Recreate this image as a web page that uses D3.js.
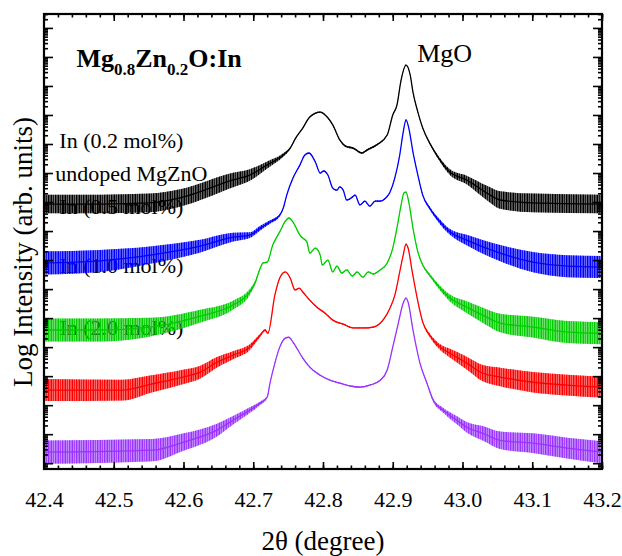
<!DOCTYPE html>
<html>
<head>
<meta charset="utf-8">
<script src="https://cdn.jsdelivr.net/npm/d3@7"></script>
<style>
  body { margin: 0; background: #fff; }
</style>
</head>
<body>
<svg id="chart" width="622" height="556" font-family="Liberation Serif, Times New Roman, serif"></svg>
<script>
// 2theta (degree), log10 intensity, and half height of the noise band (decades)
const thetaBlack = [42.400, 42.480, 42.552, 42.595, 42.671, 42.695, 42.720, 42.743, 42.753, 42.761, 42.771, 42.781, 42.796, 42.806, 42.814, 42.824, 42.832, 42.843, 42.856, 42.863, 42.877, 42.892, 42.900, 42.906, 42.912, 42.919, 42.925, 42.929, 42.936, 42.943, 42.953, 42.963, 42.982, 43.006, 43.035, 43.054, 43.101, 43.200];
const logBlack = [8.93, 8.93, 8.97, 9.14, 9.76, 9.93, 10.28, 10.62, 10.86, 11.21, 11.55, 11.93, 12.10, 11.93, 11.66, 11.14, 10.93, 10.86, 10.69, 10.79, 10.97, 11.31, 12.00, 12.34, 13.21, 13.72, 13.38, 12.79, 12.10, 11.55, 11.03, 10.62, 10.03, 9.76, 9.31, 9.07, 8.97, 8.93];
const noiseBlack = [.32, .32, .32, .30, .25, .20, .12, .06, .03, .02, .02, .02, .02, .02, .02, .02, .03, .03, .03, .03, .03, .02, .02, .02, .02, .02, .02, .02, .02, .02, .03, .05, .10, .15, .25, .30, .32, .32];

const thetaBlue = [42.400, 42.480, 42.552, 42.624, 42.671, 42.695, 42.710, 42.724, 42.738, 42.743, 42.748, 42.757, 42.767, 42.774, 42.780, 42.789, 42.796, 42.801, 42.807, 42.814, 42.820, 42.824, 42.829, 42.834, 42.842, 42.846, 42.853, 42.860, 42.867, 42.875, 42.882, 42.890, 42.896, 42.903, 42.910, 42.915, 42.919, 42.923, 42.929, 42.936, 42.943, 42.953, 42.968, 42.982, 43.006, 43.054, 43.101, 43.150, 43.200];
const logBlue = [6.90, 6.97, 7.17, 7.48, 7.79, 7.86, 8.10, 8.31, 8.55, 8.79, 9.24, 9.83, 10.28, 10.62, 10.69, 10.38, 10.00, 10.07, 9.93, 9.48, 9.41, 9.52, 9.41, 9.07, 9.17, 9.24, 8.90, 9.03, 8.86, 9.03, 9.03, 9.14, 9.34, 9.83, 10.62, 11.41, 11.83, 11.55, 10.72, 9.93, 9.24, 8.79, 8.31, 7.97, 7.69, 7.24, 6.93, 6.79, 6.76];
const noiseBlue = [.40, .38, .30, .22, .15, .10, .08, .06, .04, .03, .02, .02, .02, .02, .02, .02, .02, .02, .02, .02, .02, .02, .02, .02, .02, .02, .02, .02, .02, .02, .02, .02, .02, .02, .02, .02, .02, .02, .02, .02, .03, .05, .08, .10, .18, .28, .35, .38, .38];

const thetaGreen = [42.400, 42.480, 42.552, 42.624, 42.671, 42.695, 42.703, 42.710, 42.714, 42.720, 42.728, 42.738, 42.746, 42.751, 42.757, 42.767, 42.771, 42.777, 42.781, 42.789, 42.796, 42.799, 42.807, 42.814, 42.820, 42.827, 42.834, 42.842, 42.849, 42.857, 42.865, 42.872, 42.882, 42.892, 42.900, 42.906, 42.912, 42.916, 42.919, 42.923, 42.929, 42.936, 42.943, 42.953, 42.968, 42.982, 43.006, 43.029, 43.054, 43.101, 43.150, 43.200];
const logGreen = [4.59, 4.59, 4.69, 5.07, 5.45, 5.90, 6.24, 6.72, 6.90, 6.93, 7.52, 7.97, 8.34, 8.45, 8.31, 7.86, 7.76, 7.62, 7.24, 7.41, 7.17, 6.83, 7.00, 6.59, 6.79, 6.55, 6.66, 6.45, 6.59, 6.41, 6.59, 6.52, 6.66, 6.90, 7.41, 8.10, 8.90, 9.31, 9.34, 9.00, 8.10, 7.28, 6.83, 6.48, 6.03, 5.69, 5.38, 5.10, 4.83, 4.69, 4.52, 4.48];
const noiseGreen = [.40, .40, .32, .22, .15, .10, .06, .03, .02, .02, .02, .02, .02, .02, .02, .02, .02, .02, .02, .02, .02, .02, .02, .02, .02, .02, .02, .02, .02, .02, .02, .02, .02, .02, .02, .02, .02, .02, .02, .02, .02, .02, .03, .05, .08, .12, .20, .26, .32, .36, .38, .38];

const thetaRed = [42.400, 42.513, 42.552, 42.599, 42.624, 42.648, 42.671, 42.695, 42.710, 42.717, 42.721, 42.731, 42.738, 42.746, 42.753, 42.760, 42.766, 42.771, 42.781, 42.791, 42.803, 42.814, 42.829, 42.843, 42.857, 42.872, 42.886, 42.896, 42.903, 42.910, 42.915, 42.919, 42.922, 42.928, 42.935, 42.943, 42.953, 42.968, 42.982, 43.006, 43.029, 43.054, 43.101, 43.150, 43.200];
const logRed = [2.52, 2.52, 2.72, 2.97, 3.14, 3.48, 3.72, 4.00, 4.41, 4.59, 4.48, 5.79, 6.38, 6.59, 6.38, 5.97, 6.03, 5.90, 5.62, 5.38, 5.17, 4.93, 4.79, 4.66, 4.66, 4.69, 4.93, 5.34, 5.79, 6.59, 7.17, 7.55, 7.41, 6.59, 5.69, 4.86, 4.41, 4.00, 3.79, 3.45, 3.10, 2.97, 2.79, 2.69, 2.62];
const noiseRed = [.38, .36, .30, .25, .22, .18, .14, .10, .05, .03, .02, .02, .02, .02, .02, .02, .02, .02, .02, .02, .02, .02, .02, .02, .02, .02, .02, .02, .02, .02, .02, .02, .02, .02, .02, .03, .06, .10, .15, .22, .28, .32, .35, .36, .36];

const thetaPurple = [42.400, 42.556, 42.599, 42.648, 42.671, 42.695, 42.710, 42.720, 42.724, 42.731, 42.738, 42.746, 42.751, 42.757, 42.764, 42.771, 42.781, 42.796, 42.810, 42.824, 42.839, 42.853, 42.867, 42.882, 42.892, 42.900, 42.908, 42.915, 42.919, 42.922, 42.929, 42.939, 42.949, 42.958, 42.972, 42.992, 43.006, 43.029, 43.054, 43.101, 43.150, 43.200];
const logPurple = [0.38, 0.45, 0.72, 1.14, 1.48, 1.83, 2.07, 2.28, 2.76, 3.45, 4.00, 4.31, 4.34, 4.17, 3.90, 3.62, 3.31, 3.03, 2.86, 2.76, 2.66, 2.62, 2.69, 2.86, 3.21, 4.00, 4.83, 5.52, 5.69, 5.55, 4.59, 3.45, 2.76, 2.17, 1.83, 1.48, 1.24, 1.03, 0.79, 0.69, 0.52, 0.38];
const noisePurple = [.40, .38, .30, .22, .15, .10, .06, .03, .02, .02, .02, .02, .02, .02, .02, .02, .02, .02, .02, .02, .02, .02, .02, .02, .02, .02, .02, .02, .02, .02, .02, .02, .03, .05, .08, .14, .18, .25, .30, .34, .36, .38];

const seriesColors = ['#000000', '#0000ff', '#00cc00', '#ff0000', '#9933ff'];
const sampleLabels = ['In (0.2 mol%)', 'undoped MgZnO', 'In (0.5 mol%)', 'In (1.0 mol%)', 'In (2.0 mol%)'];
const labelLog = [10.86, 9.72, 8.59, 6.55, 4.41];
const xTickLabels = ['42.4', '42.5', '42.6', '42.7', '42.8', '42.9', '43.0', '43.1', '43.2'];

const serif = 'Liberation Serif, Times New Roman, serif';

const series = [
    { x: thetaBlack, y: logBlack, n: noiseBlack },
    { x: thetaBlue, y: logBlue, n: noiseBlue },
    { x: thetaGreen, y: logGreen, n: noiseGreen },
    { x: thetaRed, y: logRed, n: noiseRed },
    { x: thetaPurple, y: logPurple, n: noisePurple },
].map((s, i) => ({
    color: seriesColors[i],
    points: s.x.map((t, j) => ({ t, l: s.y[j], n: s.n[j] })),
}));

const margin = { top: 14, right: 20, bottom: 87, left: 44 };
const width = 622 - margin.left - margin.right;
const height = 556 - margin.top - margin.bottom;

const svg = d3.select('#chart');
const defs = svg.append('defs');
const g = svg.append('g').attr('transform', `translate(${margin.left},${margin.top})`);

const x = d3.scaleLinear().domain([42.4, 43.2]).range([0, width]);
const y = d3.scaleLog().domain([Math.pow(10, -0.2), Math.pow(10, 15.48)]).range([height, 0]);
const p10 = v => Math.pow(10, v);

defs.append('clipPath').attr('id', 'plot-clip')
    .append('rect').attr('width', width).attr('height', height);

// striped fill so the noise band reads as dense spikes
seriesColors.forEach((c, i) => {
    const pat = defs.append('pattern')
        .attr('id', `spikes-${i}`)
        .attr('patternUnits', 'userSpaceOnUse')
        .attr('width', 7)
        .attr('height', 9);
    [[0, 1.3], [2.2, 0.9], [3.9, 1.4], [5.8, 0.7]].forEach(([sx, sw]) => {
        pat.append('rect').attr('x', sx).attr('width', sw).attr('height', 9).attr('fill', c);
    });
});

// sample labels sit under the curves
g.selectAll('.sample-label')
    .data(sampleLabels)
    .enter().append('text')
    .attr('class', 'sample-label')
    .attr('x', (d, i) => x(i === 1 ? 42.416 : 42.422))
    .attr('y', (d, i) => y(p10(labelLog[i])))
    .attr('font-family', serif)
    .attr('font-size', 22)
    .text(d => d);

const plot = g.append('g').attr('clip-path', 'url(#plot-clip)');

const band = d3.area()
    .x(d => x(d.t))
    .y0(d => y(p10(d.l - d.n)))
    .y1(d => y(p10(d.l + d.n)))
    .curve(d3.curveMonotoneX);

const line = d3.line()
    .x(d => x(d.t))
    .y(d => y(p10(d.l)))
    .curve(d3.curveMonotoneX);

series.forEach((s, i) => {
    plot.append('path')
        .datum(s.points)
        .attr('d', band)
        .attr('fill', s.color)
        .attr('fill-opacity', 0.45);
    plot.append('path')
        .datum(s.points)
        .attr('d', band)
        .attr('fill', `url(#spikes-${i})`);
    plot.append('path')
        .datum(s.points)
        .attr('d', line)
        .attr('fill', 'none')
        .attr('stroke', s.color)
        .attr('stroke-width', 1.3);
});

// axes, ticks pointing inward
const xMajor = d3.range(0, 9).map(i => 42.4 + i * 0.1);
const xMinor = d3.range(0, 41).map(i => 42.4 + i * 0.02);
const yMajor = d3.range(0, 16).map(k => p10(k));
const yMinor = d3.range(-1, 16).flatMap(k => d3.range(2, 10).map(m => m * p10(k)))
    .filter(v => v >= y.domain()[0] && v <= y.domain()[1]);

const styleTicks = sel => {
    sel.select('.domain').remove();
    sel.selectAll('line').attr('stroke', '#000').attr('stroke-width', 1.6);
};

g.append('g').attr('transform', `translate(0,${height})`)
    .call(d3.axisBottom(x).tickValues(xMinor).tickSize(-3.5).tickFormat(''))
    .call(styleTicks);
const xAxis = g.append('g').attr('transform', `translate(0,${height})`)
    .call(d3.axisBottom(x).tickValues(xMajor).tickSize(-7).tickPadding(22)
        .tickFormat((d, i) => xTickLabels[i]))
    .call(styleTicks);
xAxis.attr('font-family', serif).attr('font-size', 22);
xAxis.selectAll('text').attr('fill', '#000');

g.append('g')
    .call(d3.axisTop(x).tickValues(xMinor).tickSize(-3.5).tickFormat(''))
    .call(styleTicks);
g.append('g')
    .call(d3.axisTop(x).tickValues(xMajor).tickSize(-7).tickFormat(''))
    .call(styleTicks);

g.append('g')
    .call(d3.axisLeft(y).tickValues(yMinor).tickSize(-4).tickFormat(''))
    .call(styleTicks);
g.append('g')
    .call(d3.axisLeft(y).tickValues(yMajor).tickSize(-9).tickFormat(''))
    .call(styleTicks);
g.append('g').attr('transform', `translate(${width},0)`)
    .call(d3.axisRight(y).tickValues(yMinor).tickSize(-4).tickFormat(''))
    .call(styleTicks);
g.append('g').attr('transform', `translate(${width},0)`)
    .call(d3.axisRight(y).tickValues(yMajor).tickSize(-9).tickFormat(''))
    .call(styleTicks);

g.append('rect')
    .attr('width', width)
    .attr('height', height)
    .attr('fill', 'none')
    .attr('stroke', '#000')
    .attr('stroke-width', 2.2);

// annotations
const title = g.append('text')
    .attr('x', x(42.4465))
    .attr('y', 53)
    .attr('font-family', serif)
    .attr('font-size', 26)
    .attr('font-weight', 'bold');
title.append('tspan').text('Mg');
title.append('tspan').attr('dy', 8).attr('font-size', 17).text('0.8');
title.append('tspan').attr('dy', -8).text('Zn');
title.append('tspan').attr('dy', 8).attr('font-size', 17).text('0.2');
title.append('tspan').attr('dy', -8).text('O:In');

g.append('text')
    .attr('x', x(42.935))
    .attr('y', 48)
    .attr('font-family', serif)
    .attr('font-size', 26)
    .text('MgO');

g.append('text')
    .attr('x', width / 2)
    .attr('y', height + 81)
    .attr('text-anchor', 'middle')
    .attr('font-family', serif)
    .attr('font-size', 27)
    .text('2θ (degree)');

svg.append('text')
    .attr('transform', 'translate(32,252) rotate(-90)')
    .attr('text-anchor', 'middle')
    .attr('font-family', serif)
    .attr('font-size', 27)
    .text('Log Intensity (arb. units)');
</script>
</body>
</html>
